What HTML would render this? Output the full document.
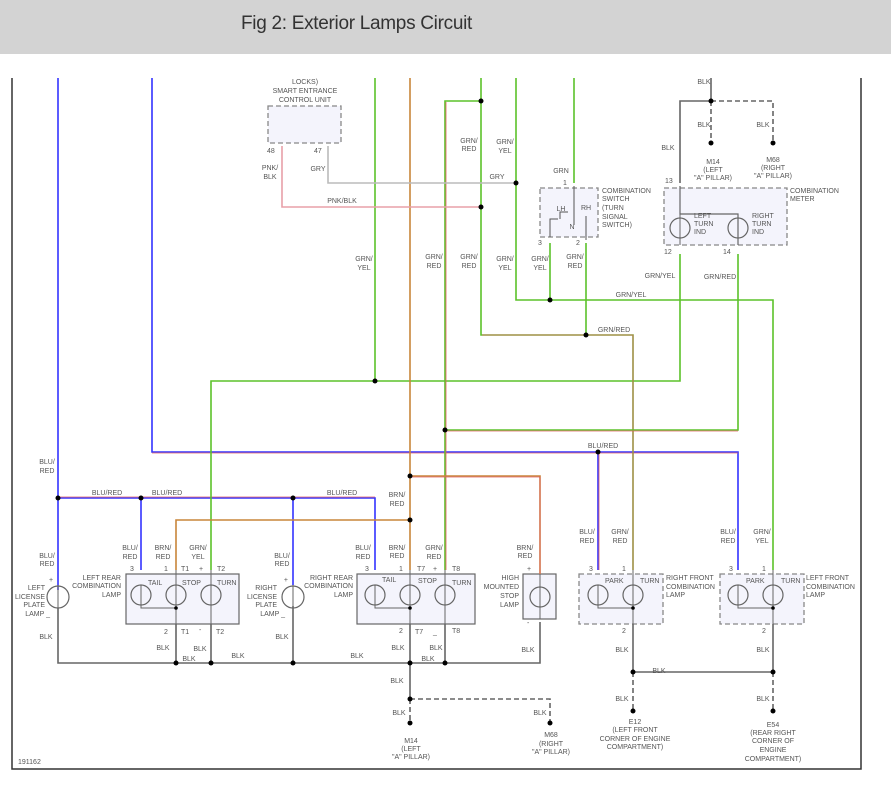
<!DOCTYPE html>
<html><head><meta charset="utf-8"><style>
html,body{margin:0;padding:0;background:#fff;width:891px;height:788px;overflow:hidden}
.hdr{position:absolute;left:0;top:0;width:891px;height:54px;background:#d3d3d3}
.hdr span{position:absolute;left:241px;top:13px;font-family:"Liberation Sans",sans-serif;font-size:19px;color:#333;letter-spacing:-0.3px}
svg{position:absolute;left:0;top:0}
text{font-family:"Liberation Sans",sans-serif;font-size:7px;fill:#555}
.e{text-anchor:end}.m{text-anchor:middle}
.bl{stroke:#3333ff;stroke-width:1.6;fill:none}
.gy{stroke:#5cc22a;stroke-width:1.6;fill:none}
.gr{stroke:#5cc22a;stroke-width:1.6;fill:none}
.rd{stroke:#e06060;stroke-width:0.8;fill:none}
.br{stroke:#c8853a;stroke-width:1.6;fill:none}
.k{stroke:#666;stroke-width:1.6;fill:none}
.kd{stroke:#666;stroke-width:1.6;fill:none;stroke-dasharray:5,3}
.pk{stroke:#e8a0a8;stroke-width:1.6;fill:none}
.g{stroke:#bbb;stroke-width:1.6;fill:none}
.box{fill:#f4f4fc;stroke:#666;stroke-width:1.2}
.dbox{fill:#f4f4fc;stroke:#888;stroke-width:1.3;stroke-dasharray:5,3}
.bulb{fill:none;stroke:#666;stroke-width:1.2}
</style></head><body>
<div class="hdr"><span>Fig 2: Exterior Lamps Circuit</span></div>
<svg width="891" height="788" viewBox="0 0 891 788">
<!-- frame -->
<path d="M12 78V769H861V78" stroke="#333" stroke-width="1.5" fill="none"/>

<!-- boxes -->
<rect class="dbox" x="268" y="106" width="73" height="37"/>
<rect class="dbox" x="540" y="188" width="58" height="49"/>
<rect class="dbox" x="664" y="188" width="123" height="57"/>
<rect class="box" x="126" y="574" width="113" height="50"/>
<rect class="box" x="357" y="574" width="118" height="50"/>
<rect class="box" x="523" y="574" width="33" height="45"/>
<rect class="dbox" x="579" y="574" width="84" height="50"/>
<rect class="dbox" x="720" y="574" width="84" height="50"/>

<!-- blue -->
<path class="bl" d="M58 78V590"/>
<path class="bl" d="M152 78V452H738V570"/>
<path class="rd" d="M152 453H738"/>
<path class="bl" d="M598 452V570"/>
<path class="rd" d="M599 453V570"/>
<path class="bl" d="M58 498H375V570"/>
<path class="rd" d="M58 497H375"/>
<path class="bl" d="M141 498V570"/>
<path class="bl" d="M293 498V585"/>

<!-- green/yel -->
<path class="gy" d="M375 78V381"/>
<path class="gy" d="M211 570V381H680V254"/>
<path class="gy" d="M516 78V300H773V570"/>
<path class="gy" d="M550 243V300"/>
<path class="gy" d="M574 78V183"/>

<!-- green/red -->
<path class="gr" d="M481 78V335H633V570"/>
<path class="rd" d="M482 335H633V570"/>
<path class="gr" d="M586 243V335"/>
<path class="gr" d="M481 101H445V570"/>
<path class="rd" d="M446 102V570"/>
<path class="gr" d="M445 430H738V254"/>
<path class="rd" d="M446 431H738"/>

<!-- brown -->
<path class="br" d="M410 78V570"/>
<path class="br" d="M410 476H540V574"/>
<path class="rd" d="M411 477H540V574"/>
<path class="br" d="M176 570V520H410"/>

<!-- pink / gray -->
<path class="pk" d="M282 146V207H481"/>
<path class="g" d="M328 146V183H516"/>

<!-- black top -->
<path class="k" d="M711 78V101H680V183"/>
<path class="kd" d="M711 101H773V143"/>
<path class="kd" d="M711 101V143"/>
<!-- switch internals -->
<path d="M574 186V225M560 219V212H568M586 216V240M550 237V219H558" stroke="#555" stroke-width="1" fill="none"/>
<path d="M680 186V214H738V245" stroke="#666" stroke-width="1.2" fill="none"/>

<!-- black bottom -->
<path class="k" d="M58 608V663H540V622"/>
<path class="k" d="M176 624V663M211 624V663M293 606V663M410 624V699M445 624V663"/>
<path class="kd" d="M410 699V723M410 699H550V723"/>
<path class="k" d="M633 624V672H773V624"/>
<path class="kd" d="M633 672V711M773 672V711"/>
<path d="M141 585V608H176M375 585V608H410M598 585V608H633M738 585V608H773" stroke="#666" stroke-width="1" fill="none"/>

<!-- bulbs -->
<g class="bulb">
<circle cx="58" cy="597" r="11"/><circle cx="293" cy="597" r="11"/>
<circle cx="141" cy="595" r="10"/><circle cx="176" cy="595" r="10"/><circle cx="211" cy="595" r="10"/>
<circle cx="375" cy="595" r="10"/><circle cx="410" cy="595" r="10"/><circle cx="445" cy="595" r="10"/>
<circle cx="540" cy="597" r="10"/>
<circle cx="598" cy="595" r="10"/><circle cx="633" cy="595" r="10"/>
<circle cx="738" cy="595" r="10"/><circle cx="773" cy="595" r="10"/>
<circle cx="680" cy="228" r="10"/><circle cx="738" cy="228" r="10"/>
</g>
<g stroke="#666" stroke-width="1" fill="none">
<path d="M176 570V624M211 570V624M410 570V624M445 570V624M633 570V624M773 570V624M540 574V619M680 214V245M738 214V245M58 585V610M293 585V610"/>
</g>

<!-- junctions -->
<g fill="#000">
<circle cx="58" cy="498" r="2.5"/><circle cx="141" cy="498" r="2.5"/><circle cx="293" cy="498" r="2.5"/>
<circle cx="375" cy="381" r="2.5"/><circle cx="410" cy="476" r="2.5"/><circle cx="410" cy="520" r="2.5"/>
<circle cx="445" cy="430" r="2.5"/><circle cx="481" cy="101" r="2.5"/><circle cx="481" cy="207" r="2.5"/>
<circle cx="516" cy="183" r="2.5"/><circle cx="550" cy="300" r="2.5"/><circle cx="586" cy="335" r="2.5"/>
<circle cx="598" cy="452" r="2.5"/><circle cx="711" cy="101" r="2.5"/><circle cx="711" cy="143" r="2.5"/><circle cx="773" cy="143" r="2.5"/>
<circle cx="176" cy="663" r="2.5"/><circle cx="211" cy="663" r="2.5"/><circle cx="293" cy="663" r="2.5"/>
<circle cx="410" cy="663" r="2.5"/><circle cx="445" cy="663" r="2.5"/><circle cx="410" cy="699" r="2.5"/>
<circle cx="410" cy="723" r="2.5"/><circle cx="550" cy="723" r="2.5"/>
<circle cx="633" cy="672" r="2.5"/><circle cx="773" cy="672" r="2.5"/><circle cx="633" cy="711" r="2.5"/><circle cx="773" cy="711" r="2.5"/>
<circle cx="176" cy="608" r="1.8"/><circle cx="410" cy="608" r="1.8"/><circle cx="633" cy="608" r="1.8"/><circle cx="773" cy="608" r="1.8"/>
</g>

<!-- labels top -->
<text class="m" x="305" y="84">LOCKS)</text>
<text class="m" x="305" y="93">SMART ENTRANCE</text>
<text class="m" x="305" y="102">CONTROL UNIT</text>
<text x="267" y="153">48</text><text x="314" y="153">47</text>
<text class="m" x="270" y="170">PNK/</text><text class="m" x="270" y="179">BLK</text>
<text class="m" x="318" y="171">GRY</text>
<text class="m" x="342" y="203">PNK/BLK</text>
<text class="m" x="497" y="179">GRY</text>
<text class="m" x="469" y="143">GRN/</text><text class="m" x="469" y="151">RED</text>
<text class="m" x="505" y="144">GRN/</text><text class="m" x="505" y="153">YEL</text>
<text class="m" x="561" y="173">GRN</text>
<text x="563" y="185">1</text><text x="538" y="245">3</text><text x="576" y="245">2</text>
<text class="m" x="561" y="211">LH</text><text class="m" x="586" y="210">RH</text><text class="m" x="572" y="229">N</text>
<text x="602" y="193">COMBINATION</text><text x="602" y="201">SWITCH</text><text x="602" y="210">(TURN</text><text x="602" y="219">SIGNAL</text><text x="602" y="227">SWITCH)</text>
<text class="m" x="704" y="84">BLK</text><text class="m" x="704" y="127">BLK</text><text class="m" x="763" y="127">BLK</text><text class="m" x="668" y="150">BLK</text>
<text class="m" x="713" y="164">M14</text><text class="m" x="713" y="172">(LEFT</text><text class="m" x="713" y="180">"A" PILLAR)</text>
<text class="m" x="773" y="162">M68</text><text class="m" x="773" y="170">(RIGHT</text><text class="m" x="773" y="178">"A" PILLAR)</text>
<text x="665" y="183">13</text><text x="664" y="254">12</text><text x="723" y="254">14</text>
<text x="790" y="193">COMBINATION</text><text x="790" y="201">METER</text>
<text x="694" y="218">LEFT</text><text x="694" y="226">TURN</text><text x="694" y="234">IND</text>
<text x="752" y="218">RIGHT</text><text x="752" y="226">TURN</text><text x="752" y="234">IND</text>
<text class="m" x="364" y="261">GRN/</text><text class="m" x="364" y="270">YEL</text>
<text class="m" x="434" y="259">GRN/</text><text class="m" x="434" y="268">RED</text>
<text class="m" x="469" y="259">GRN/</text><text class="m" x="469" y="268">RED</text>
<text class="m" x="505" y="261">GRN/</text><text class="m" x="505" y="270">YEL</text>
<text class="m" x="540" y="261">GRN/</text><text class="m" x="540" y="270">YEL</text>
<text class="m" x="575" y="259">GRN/</text><text class="m" x="575" y="268">RED</text>
<text class="m" x="660" y="278">GRN/YEL</text><text class="m" x="720" y="279">GRN/RED</text>
<text class="m" x="631" y="297">GRN/YEL</text><text class="m" x="614" y="332">GRN/RED</text>
<text class="m" x="603" y="448">BLU/RED</text>

<!-- labels bottom -->
<text class="m" x="47" y="464">BLU/</text><text class="m" x="47" y="473">RED</text>
<text class="m" x="107" y="495">BLU/RED</text><text class="m" x="167" y="495">BLU/RED</text><text class="m" x="342" y="495">BLU/RED</text>
<text class="m" x="397" y="497">BRN/</text><text class="m" x="397" y="506">RED</text>
<text class="m" x="47" y="558">BLU/</text><text class="m" x="47" y="566">RED</text>
<text class="m" x="130" y="550">BLU/</text><text class="m" x="130" y="559">RED</text>
<text class="m" x="163" y="550">BRN/</text><text class="m" x="163" y="559">RED</text>
<text class="m" x="198" y="550">GRN/</text><text class="m" x="198" y="559">YEL</text>
<text class="m" x="282" y="558">BLU/</text><text class="m" x="282" y="566">RED</text>
<text class="m" x="363" y="550">BLU/</text><text class="m" x="363" y="559">RED</text>
<text class="m" x="397" y="550">BRN/</text><text class="m" x="397" y="558">RED</text>
<text class="m" x="434" y="550">GRN/</text><text class="m" x="434" y="559">RED</text>
<text class="m" x="525" y="550">BRN/</text><text class="m" x="525" y="558">RED</text>
<text class="m" x="587" y="534">BLU/</text><text class="m" x="587" y="543">RED</text>
<text class="m" x="620" y="534">GRN/</text><text class="m" x="620" y="543">RED</text>
<text class="m" x="728" y="534">BLU/</text><text class="m" x="728" y="543">RED</text>
<text class="m" x="762" y="534">GRN/</text><text class="m" x="762" y="543">YEL</text>

<text x="130" y="571">3</text><text x="164" y="571">1</text><text x="181" y="571">T1</text><text x="199" y="571">+</text><text x="217" y="571">T2</text>
<text x="148" y="585">TAIL</text><text x="182" y="585">STOP</text><text x="217" y="585">TURN</text>
<text class="e" x="121" y="580">LEFT REAR</text><text class="e" x="121" y="588">COMBINATION</text><text class="e" x="121" y="597">LAMP</text>
<text x="49" y="582">+</text>
<text class="e" x="45" y="590">LEFT</text><text class="e" x="45" y="599">LICENSE</text><text class="e" x="45" y="607">PLATE</text><text class="e" x="50" y="616">LAMP _</text>
<text x="164" y="634">2</text><text x="181" y="634">T1</text><text x="199" y="632">-</text><text x="216" y="634">T2</text>
<text class="e" x="288" y="582">+</text>
<text class="e" x="277" y="590">RIGHT</text><text class="e" x="277" y="599">LICENSE</text><text class="e" x="277" y="607">PLATE</text><text class="e" x="285" y="616">LAMP _</text>
<text x="365" y="571">3</text><text x="399" y="571">1</text><text x="417" y="571">T7</text><text x="433" y="571">+</text><text x="452" y="571">T8</text>
<text x="382" y="582">TAIL</text><text x="418" y="583">STOP</text><text x="452" y="585">TURN</text>
<text class="e" x="353" y="580">RIGHT REAR</text><text class="e" x="353" y="588">COMBINATION</text><text class="e" x="353" y="597">LAMP</text>
<text x="399" y="633">2</text><text x="415" y="634">T7</text><text x="433" y="634">_</text><text x="452" y="633">T8</text>
<text x="527" y="571">+</text><text x="527" y="625">-</text>
<text class="e" x="519" y="580">HIGH</text><text class="e" x="519" y="589">MOUNTED</text><text class="e" x="519" y="598">STOP</text><text class="e" x="519" y="607">LAMP</text>
<text x="589" y="571">3</text><text x="622" y="571">1</text><text x="605" y="583">PARK</text><text x="640" y="583">TURN</text>
<text x="666" y="580">RIGHT FRONT</text><text x="666" y="589">COMBINATION</text><text x="666" y="597">LAMP</text>
<text x="622" y="633">2</text>
<text x="729" y="571">3</text><text x="762" y="571">1</text><text x="746" y="583">PARK</text><text x="781" y="583">TURN</text>
<text x="806" y="580">LEFT FRONT</text><text x="806" y="589">COMBINATION</text><text x="806" y="597">LAMP</text>
<text x="762" y="633">2</text>

<text class="m" x="46" y="639">BLK</text><text class="m" x="163" y="650">BLK</text><text class="m" x="200" y="651">BLK</text>
<text class="m" x="189" y="661">BLK</text><text class="m" x="238" y="658">BLK</text><text class="m" x="282" y="639">BLK</text>
<text class="m" x="357" y="658">BLK</text><text class="m" x="398" y="650">BLK</text><text class="m" x="436" y="650">BLK</text>
<text class="m" x="428" y="661">BLK</text><text class="m" x="397" y="683">BLK</text><text class="m" x="399" y="715">BLK</text>
<text class="m" x="411" y="743">M14</text><text class="m" x="411" y="751">(LEFT</text><text class="m" x="411" y="759">"A" PILLAR)</text>
<text class="m" x="540" y="715">BLK</text>
<text class="m" x="551" y="737">M68</text><text class="m" x="551" y="746">(RIGHT</text><text class="m" x="551" y="754">"A" PILLAR)</text>
<text class="m" x="528" y="652">BLK</text><text class="m" x="622" y="652">BLK</text><text class="m" x="659" y="673">BLK</text><text class="m" x="622" y="701">BLK</text>
<text class="m" x="635" y="724">E12</text><text class="m" x="635" y="732">(LEFT FRONT</text><text class="m" x="635" y="741">CORNER OF ENGINE</text><text class="m" x="635" y="749">COMPARTMENT)</text>
<text class="m" x="763" y="652">BLK</text><text class="m" x="763" y="701">BLK</text>
<text class="m" x="773" y="727">E54</text><text class="m" x="773" y="735">(REAR RIGHT</text><text class="m" x="773" y="743">CORNER OF</text><text class="m" x="773" y="752">ENGINE</text><text class="m" x="773" y="761">COMPARTMENT)</text>
<text x="18" y="764">191162</text>
</svg>
</body></html>
